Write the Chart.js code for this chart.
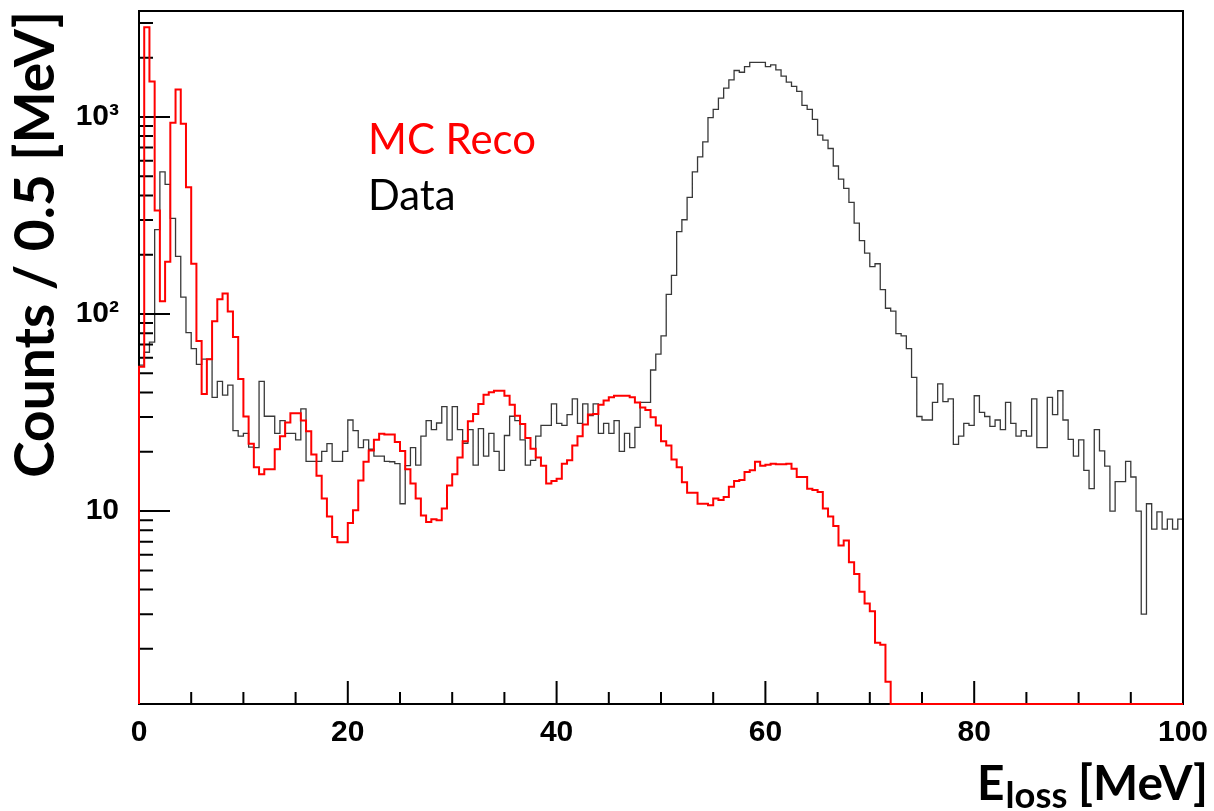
<!DOCTYPE html>
<html>
<head>
<meta charset="utf-8">
<script src="https://cdn.jsdelivr.net/npm/chart.js@4.4.1/dist/chart.umd.min.js"></script>
<style>
    html, body { margin: 0; padding: 0; background: #fff; }
    #wrap { width: 1214px; height: 811px; }
</style>
</head>
<body>
<div id="wrap"><canvas id="eloss" width="1214" height="811"></canvas></div>
<script>
// counts per 0.5 MeV bin, 0 - 100 MeV (200 bins)
const binWidth = 0.5

const dataCounts = [
    55, 64, 72, 268, 527, 455, 306, 196, 122, 80.5, 66.8, 55.5, 59, 59, 37.8, 45.5, 38.8, 43.6, 25.6, 24.0,
    24.8, 21.1, 21.0, 45.5, 30.3, 30.3, 24.8, 28.8, 24.8, 24.8, 23.0, 33.0, 17.9, 17.9, 17.9, 20.1, 22.0, 17.9, 17.9, 20.1,
    29.0, 25.6, 21.0, 23.0, 20.6, 19.0, 19.0, 17.9, 17.8, 17.4, 10.9, 17.0, 21.0, 17.1, 24.0, 28.8, 25.9, 28.0, 33.9, 23.0,
    33.9, 25.9, 22.1, 25.9, 17.1, 26.2, 19.0, 24.8, 20.1, 16.1, 24.2, 30.3, 28.8, 23.0, 17.1, 18.1, 24.0, 27.2, 27.2, 35.0,
    27.9, 27.2, 30.9, 37.1, 27.9, 35.0, 30.5, 35.0, 24.8, 27.9, 24.8, 28.8, 20.1, 24.8, 21.0, 26.6, 35.6, 35.6, 52, 62.6,
    77.4, 125.7, 157, 262, 301, 391, 527, 628, 748, 992, 1094, 1247, 1400, 1542, 1721, 1687, 1803, 1895, 1895, 1895,
    1803, 1838, 1734, 1611, 1502, 1429, 1349, 1146, 1094, 973, 809, 763, 692, 564, 484, 434, 369, 289, 236, 204,
    174, 180, 133, 107, 103.5, 79.5, 77.4, 66.8, 47.7, 30.2, 29.0, 29.0, 35.6, 44.2, 35.9, 37.1, 21.8, 24.0, 27.9, 27.2,
    38.5, 31.7, 30.2, 26.9, 29.0, 25.9, 35.6, 27.9, 24.0, 25.6, 24.0, 37.1, 21.0, 21.0, 37.8, 30.9, 40.8, 29.0, 23.1, 19.0,
    23.0, 16.1, 13.0, 25.9, 20.2, 16.9, 10.0, 14.1, 14.1, 17.9, 14.9, 10.0, 3.0, 10.9, 8.1, 9.9, 8.1, 9.1, 8.1, 9.1
]

const mcRecoCounts = [
    54, 2850, 1514, 335, 116, 184, 935, 1380, 925, 440, 180, 73, 39.3, 59, 92, 119, 127, 103, 76.5, 46.8,
    30.2, 22.0, 16.7, 15.4, 16.3, 16.3, 20.6, 24.0, 28.2, 31.4, 31.4, 28.8, 25.4, 19.4, 15.1, 11.6, 9.4, 7.4, 6.95, 6.95,
    8.7, 10.1, 14.3, 17.8, 20.3, 23.0, 24.7, 24.5, 24.5, 22.4, 20.2, 16.3, 13.8, 11.6, 9.5, 8.8, 9.1, 9.0, 10.3, 13.5,
    15.4, 18.7, 22.6, 28.6, 31.1, 35.0, 39.0, 40.1, 40.8, 40.8, 38.5, 34.7, 30.5, 27.7, 23.5, 20.7, 18.7, 17.0, 13.8, 14.2,
    14.6, 17.4, 18.1, 21.5, 24.0, 27.5, 30.9, 31.1, 34.7, 36.4, 37.8, 38.5, 38.5, 38.5, 37.8, 35.6, 33.6, 32.6, 29.9, 27.2,
    22.6, 21.5, 18.3, 16.7, 14.0, 12.4, 12.4, 10.9, 10.9, 10.7, 11.6, 11.4, 11.8, 13.3, 14.2, 14.4, 15.8, 16.1, 17.8, 17.0,
    17.2, 17.4, 17.3, 17.3, 17.4, 16.4, 14.9, 14.9, 13.0, 12.8, 12.5, 10.3, 9.4, 8.4, 6.7, 7.1, 5.5, 4.8, 3.9, 3.4,
    3.1, 2.15, 2.1, 1.36, 0, 0, 0, 0, 0, 0, 0, 0, 0, 0, 0, 0, 0, 0, 0, 0,
    0, 0, 0, 0, 0, 0, 0, 0, 0, 0, 0, 0, 0, 0, 0, 0, 0, 0, 0, 0,
    0, 0, 0, 0, 0, 0, 0, 0, 0, 0, 0, 0, 0, 0, 0, 0, 0, 0, 0, 0
]

const seriesNames = ['MC Reco', 'Data']
const yLabelValues = [10, 100, 1000]
const yLabelTexts = ['10', '10²', '10³']

const yMin = 1.05
const yMax = 3450

// step outline: start on the bottom of the frame, one point per bin edge
// (empty bins sit on the bottom of the frame, like ROOT does on log scale)
function histPoints(counts) {
    let pts = [{x: 0, y: yMin}]
    counts.forEach((c, i) => pts.push({x: i * binWidth, y: Math.max(c, yMin)}))
    pts.push({x: counts.length * binWidth, y: Math.max(counts[counts.length - 1], yMin)})
    return pts
}

// no Calibri here, so size Lato to the width of the original text
const measure = document.createElement('canvas').getContext('2d')
function fitFont(text, font, width) {
    measure.font = font.replace('SIZE', '100px')
    return 100 * width / measure.measureText(text).width
}
const yTitleSize = fitFont('Counts / 0.5 [MeV]', 'bold SIZE Lato', 467)
const xTitleSize = fitFont('[MeV]', 'bold SIZE Lato', 130)
const legendSize = fitFont(seriesNames[0], 'SIZE Lato', 168)

const frameTicks = {
    id: 'frameTicks',
    beforeDatasetsDraw(chart) {
        const {ctx, chartArea: a, scales: {x, y}} = chart
        ctx.save()
        ctx.strokeStyle = '#000'
        ctx.lineWidth = 2
        ctx.strokeRect(a.left, a.top, a.right - a.left, a.bottom - a.top)
        ctx.beginPath()
        // x ticks every 5 MeV, long ones every 20
        for (let v = 0; v <= 100; v += 5) {
            const px = x.getPixelForValue(v)
            const len = v % 20 === 0 ? 23 : 12
            ctx.moveTo(px, a.bottom)
            ctx.lineTo(px, a.bottom - len)
        }
        // log ticks
        for (let e = 0; e <= 3; e++) {
            for (let m = 1; m <= 9; m++) {
                const v = m * Math.pow(10, e)
                if (v < yMin || v > yMax) continue
                const py = y.getPixelForValue(v)
                ctx.moveTo(a.left, py)
                ctx.lineTo(a.left + (m === 1 ? 31 : 14), py)
            }
        }
        ctx.stroke()
        ctx.restore()
    }
}

const textBits = {
    id: 'textBits',
    afterDraw(chart) {
        const ctx = chart.ctx
        ctx.save()
        ctx.textAlign = 'left'
        ctx.textBaseline = 'alphabetic'

        ctx.font = `${legendSize}px Lato`
        ctx.fillStyle = '#ff0000'
        ctx.fillText(seriesNames[0], 368, 154)
        ctx.fillStyle = '#000'
        ctx.fillText(seriesNames[1], 368, 210)

        // E_loss [MeV], right aligned
        const big = `bold ${xTitleSize}px Lato`
        const small = `bold ${xTitleSize * 0.76}px Lato`
        ctx.font = big
        const wE = ctx.measureText('E').width
        const wM = ctx.measureText(' [MeV]').width
        ctx.font = small
        const wL = ctx.measureText('loss').width
        let x0 = 1208 - (wE + wL + wM)
        ctx.font = big
        ctx.fillText('E', x0, 800)
        ctx.font = small
        ctx.fillText('loss', x0 + wE + 1, 808)
        ctx.font = big
        ctx.fillText(' [MeV]', x0 + wE + wL, 800)
        ctx.restore()
    }
}

const tickFont = {family: "'Liberation Sans', Arial, sans-serif", weight: 'bold', size: 30}

new Chart(document.getElementById('eloss'), {
    type: 'line',
    data: {
        datasets: [{
            label: seriesNames[0],
            data: histPoints(mcRecoCounts),
            borderColor: '#ff0000',
            borderWidth: 2,
            stepped: true,
            pointRadius: 0,
            fill: false,
            clip: 3,
            order: 0
        }, {
            label: seriesNames[1],
            data: histPoints(dataCounts),
            borderColor: 'rgba(0, 0, 0, 0.78)',
            borderWidth: 1.3,
            stepped: true,
            pointRadius: 0,
            fill: false,
            clip: 3,
            order: 1
        }]
    },
    options: {
        responsive: false,
        animation: false,
        layout: {padding: {top: 11, right: 31, left: 0, bottom: 0}},
        plugins: {
            legend: {display: false},
            tooltip: {enabled: false}
        },
        scales: {
            x: {
                type: 'linear',
                min: 0,
                max: 100,
                grid: {display: false},
                border: {display: false},
                ticks: {stepSize: 20, color: '#000', font: tickFont, padding: 3, maxRotation: 0},
                afterFit: (s) => { s.height = 107; s.paddingLeft = 0; s.paddingRight = 0 }
            },
            y: {
                type: 'logarithmic',
                min: yMin,
                max: yMax,
                grid: {display: false},
                border: {display: false},
                ticks: {
                    autoSkip: false,
                    color: '#000',
                    font: tickFont,
                    padding: 12,
                    callback: (v) => {
                        const k = yLabelValues.indexOf(v)
                        return k < 0 ? '' : yLabelTexts[k]
                    }
                },
                title: {
                    display: true,
                    text: 'Counts / 0.5 [MeV]',
                    align: 'end',
                    color: '#000',
                    font: {family: 'Lato', weight: 'bold', size: yTitleSize},
                    padding: {top: 3, bottom: 0}
                },
                afterFit: (s) => { s.width = 139; s.paddingTop = 0; s.paddingBottom = 0 }
            }
        }
    },
    plugins: [frameTicks, textBits]
})
</script>
</body>
</html>
